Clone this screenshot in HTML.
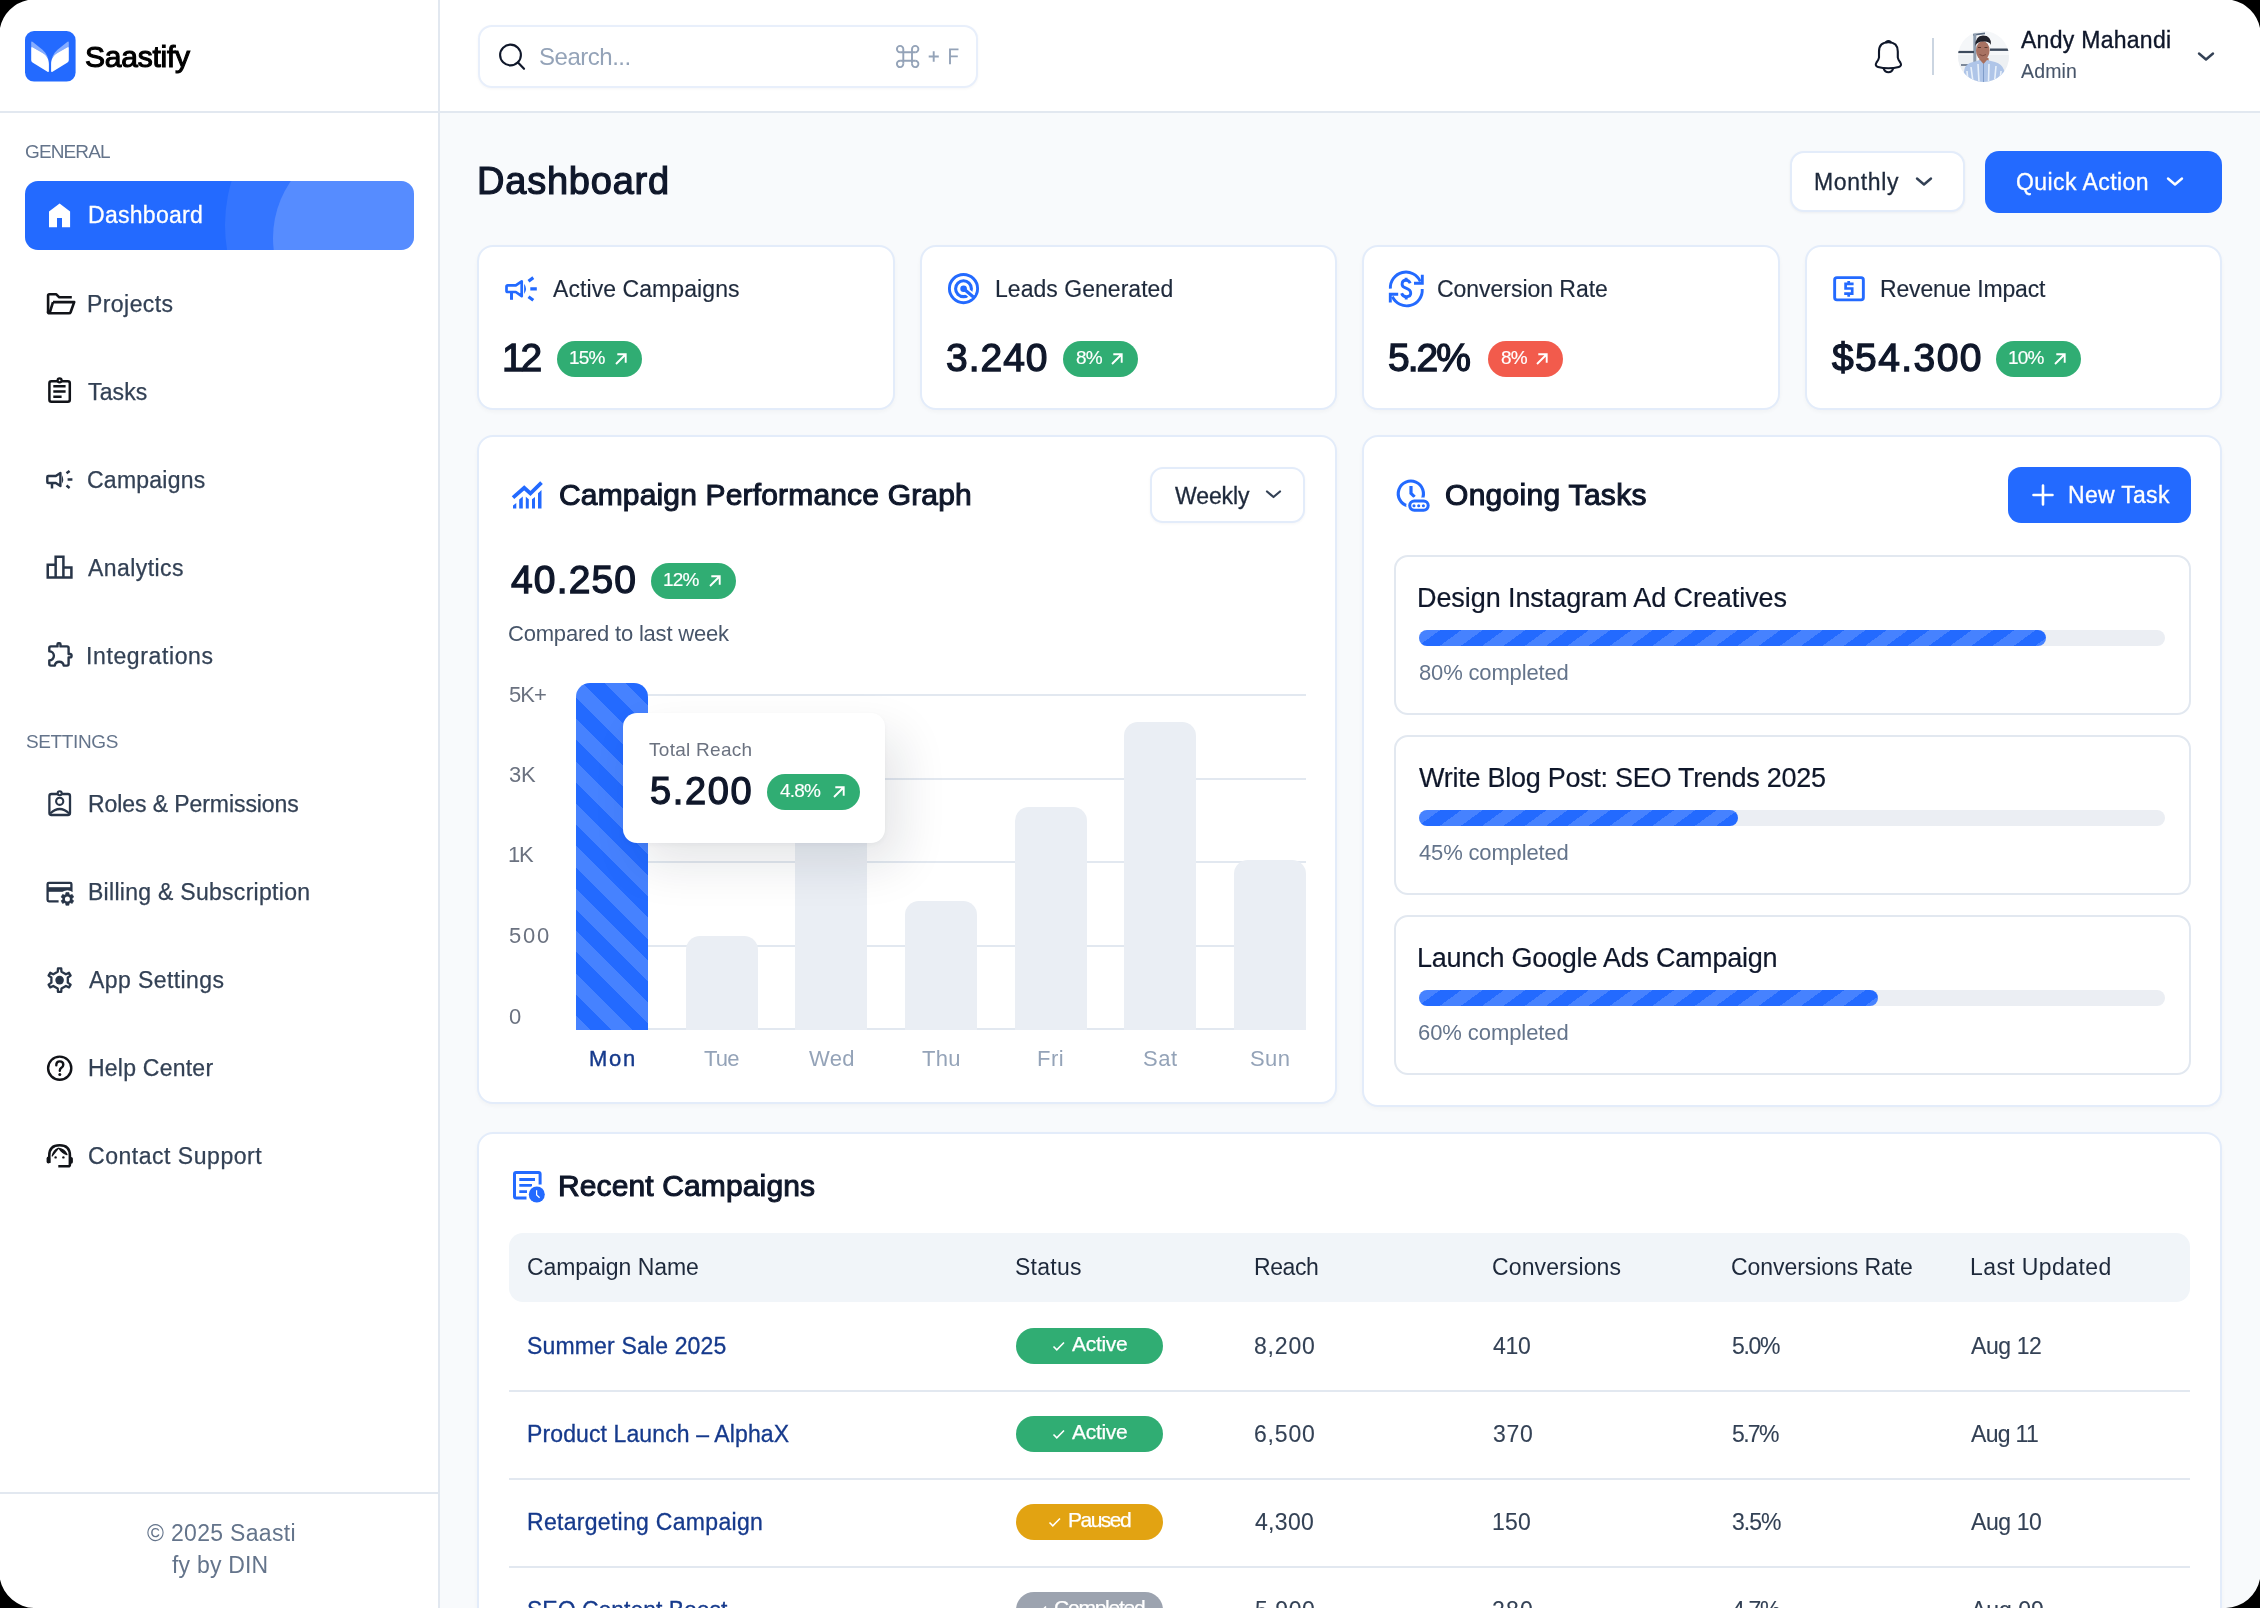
<!DOCTYPE html><html><head><meta charset="utf-8"><style>
html,body{margin:0;padding:0;background:#000;width:2260px;height:1608px;overflow:hidden}
.app{position:absolute;left:0;top:0;width:2260px;height:1608px;overflow:hidden;background:#F8FAFC;font-family:"Liberation Sans",sans-serif}
.t{position:absolute;white-space:nowrap;-webkit-font-smoothing:antialiased;will-change:transform}
svg{display:block}
</style></head><body><div class="app">
<div style="position:absolute;left:0px;top:0px;width:440px;height:1608px;box-sizing:border-box;background:#fff;border-right:2px solid #E2E8F0"></div>
<div style="position:absolute;left:0px;top:111px;width:440px;height:2px;box-sizing:border-box;background:#E2E8F0"></div>
<div style="position:absolute;left:440px;top:0px;width:1820px;height:113px;box-sizing:border-box;background:#fff;border-bottom:2px solid #E2E8F0"></div>
<svg style="position:absolute;left:25px;top:31px;overflow:visible" width="51" height="51" viewBox="0 0 51 51"><rect x="0" y="0" width="50.6" height="50.6" rx="9" fill="#236AFF"/>
<g id="w"><path d="M6.2,11.4 Q6.2,9.8 7.5,10.8 L17.5,18.8 C21.8,22.5 23.9,27.5 23.9,33 L23.9,32 C23.9,28 21.5,24.2 17.2,21.8 L7.6,16.3 Q6.2,15.5 6.2,17 Z" fill="#fff" fill-opacity="0.45"/>
<path d="M6.2,17 Q6.2,15.5 7.6,16.3 L17.2,21.8 C21.5,24.2 23.9,28 23.9,33 L23.9,40 Q23.9,41.4 22.5,40.8 L7.5,31.6 Q6.2,30.8 6.2,29.3 Z" fill="#fff"/></g>
<use href="#w" transform="translate(50,0) scale(-1,1)"/></svg>
<div class="t" style="left:84.50px;top:42.41px;font-size:30px;line-height:30px;color:#000;letter-spacing:-0.245px;-webkit-text-stroke:1.1px #000;">Saastify</div>
<div class="t" style="left:25.00px;top:142.42px;font-size:19px;line-height:19px;color:#64748B;letter-spacing:-0.873px;">GENERAL</div>
<div style="position:absolute;left:25px;top:181px;width:389px;height:69px;border-radius:13px;overflow:hidden;background:#236AFF">
<div style="position:absolute;left:200px;top:-106px;width:300px;height:300px;border-radius:50%;background:rgba(255,255,255,0.08)"></div>
<div style="position:absolute;left:248px;top:-43px;width:200px;height:200px;border-radius:50%;background:rgba(255,255,255,0.17)"></div>
</div>
<svg style="position:absolute;left:40px;top:195px;overflow:visible" width="40" height="40" viewBox="0 0 40 40"><path d="M9,16.4 L19.6,8.6 L30.1,16.4 L30.1,32.2 L22,32.2 L22,23 L17,23 L17,32.2 L9,32.2 Z" fill="#fff"/></svg>
<div class="t" style="left:87.70px;top:204.33px;font-size:23px;line-height:23px;color:#fff;letter-spacing:0.284px;-webkit-text-stroke:0.3px #fff;">Dashboard</div>
<div class="t" style="left:87.40px;top:292.53px;font-size:23px;line-height:23px;color:#334155;letter-spacing:0.431px;-webkit-text-stroke:0.25px #334155;">Projects</div>
<div class="t" style="left:88.40px;top:380.53px;font-size:23px;line-height:23px;color:#334155;letter-spacing:0.127px;-webkit-text-stroke:0.25px #334155;">Tasks</div>
<div class="t" style="left:87.40px;top:468.53px;font-size:23px;line-height:23px;color:#334155;letter-spacing:0.245px;-webkit-text-stroke:0.25px #334155;">Campaigns</div>
<div class="t" style="left:88.40px;top:556.53px;font-size:23px;line-height:23px;color:#334155;letter-spacing:0.421px;-webkit-text-stroke:0.25px #334155;">Analytics</div>
<div class="t" style="left:86.40px;top:644.53px;font-size:23px;line-height:23px;color:#334155;letter-spacing:0.619px;-webkit-text-stroke:0.25px #334155;">Integrations</div>
<div class="t" style="left:25.50px;top:732.12px;font-size:19px;line-height:19px;color:#64748B;letter-spacing:-0.377px;">SETTINGS</div>
<div class="t" style="left:87.60px;top:793.13px;font-size:23px;line-height:23px;color:#334155;letter-spacing:-0.077px;-webkit-text-stroke:0.25px #334155;">Roles &amp; Permissions</div>
<div class="t" style="left:87.60px;top:881.13px;font-size:23px;line-height:23px;color:#334155;letter-spacing:0.283px;-webkit-text-stroke:0.25px #334155;">Billing &amp; Subscription</div>
<div class="t" style="left:88.60px;top:969.13px;font-size:23px;line-height:23px;color:#334155;letter-spacing:0.407px;-webkit-text-stroke:0.25px #334155;">App Settings</div>
<div class="t" style="left:87.60px;top:1056.53px;font-size:23px;line-height:23px;color:#334155;letter-spacing:0.233px;-webkit-text-stroke:0.25px #334155;">Help Center</div>
<div class="t" style="left:87.60px;top:1144.53px;font-size:23px;line-height:23px;color:#334155;letter-spacing:0.527px;-webkit-text-stroke:0.25px #334155;">Contact Support</div>
<svg style="position:absolute;left:40px;top:285px;overflow:visible" width="40" height="40" viewBox="0 0 40 40"><path d="M8.1,28 L8.1,10.6 Q8.1,9.3 9.4,9.3 L16.3,9.3 L19.3,12.3 L31.8,12.3" stroke="#111318" stroke-width="2.6" fill="none" stroke-linejoin="round"/><path d="M13,17.1 L34.2,17.1 L30.6,27.2 Q30.2,28.3 29,28.3 L9.5,28.3 Q8.1,28.3 8.1,27 L8.1,26.5 M13,17.1 L9.6,28" stroke="#111318" stroke-width="2.6" fill="none" stroke-linejoin="round"/></svg>
<svg style="position:absolute;left:40px;top:370px;overflow:visible" width="40" height="40" viewBox="0 0 40 40"><rect x="9.4" y="11.2" width="20.4" height="20.6" rx="2" stroke="#111318" stroke-width="2.5" fill="none"/><circle cx="19.6" cy="10.3" r="2" stroke="#111318" stroke-width="2.2" fill="#fff"/><path d="M13.3,16.3 L25.6,16.3 M13.3,21.5 L25.6,21.5 M13.3,26.7 L21.6,26.7" stroke="#111318" stroke-width="2.6"/></svg>
<svg style="position:absolute;left:40px;top:459px;overflow:visible" width="40" height="40" viewBox="0 0 40 40"><path d="M8.2,17 L15.8,17 L20.4,14 L20.4,27 L15.8,24 L8.2,24 Q7.3,24 7.3,23 L7.3,18 Q7.3,17 8.2,17 Z" stroke="#283548" stroke-width="2.4" fill="none" stroke-linejoin="round"/><path d="M12,24 L12,29.5" stroke="#283548" stroke-width="2.5"/><path d="M22,16.2 Q24.4,20.5 22,24.6 Z" fill="#283548"/><path d="M26.5,14.3 L29.6,11.9 M27.6,20.4 L32.4,20.4 M26.5,26.5 L29.6,28.9" stroke="#283548" stroke-width="2.5"/></svg>
<svg style="position:absolute;left:40px;top:547px;overflow:visible" width="40" height="40" viewBox="0 0 40 40"><path d="M7.75,30.45 L7.75,17.65 L15.65,17.65 L15.65,30.45 M15.65,17.65 L15.65,9.75 L23.4,9.75 L23.4,30.45 M23.4,20.4 L31.4,20.4 L31.4,30.45 L7.75,30.45" stroke="#283548" stroke-width="2.5" fill="none" stroke-linecap="square" stroke-linejoin="miter"/></svg>
<svg style="position:absolute;left:40px;top:635px;overflow:visible" width="40" height="40" viewBox="0 0 40 40"><path d="M9.3,16.2 L9.3,13 Q9.3,11.4 10.9,11.4 L17.5,11.4 L17.5,9.3 Q17.5,8.3 18.5,8.3 L19.5,8.3 Q20.5,8.3 20.5,9.3 L20.5,11.4 L27,11.4 Q28.6,11.4 28.6,13 L28.6,19 L30,19 Q31.6,19 31.6,20.7 Q31.6,22.4 30,22.4 L28.6,22.4 L28.6,29 Q28.6,30.6 27,30.6 L23.7,30.6 A4.5,4.5 0 0 0 14.8,30.6 L10.9,30.6 Q9.3,30.6 9.3,29 L9.3,25.4 A4.6,4.6 0 0 0 9.3,16.2 Z" stroke="#283548" stroke-width="2.4" fill="none" stroke-linejoin="round"/></svg>
<svg style="position:absolute;left:40px;top:783px;overflow:visible" width="40" height="40" viewBox="0 0 40 40"><rect x="9.4" y="11" width="20.6" height="21" rx="2" stroke="#283548" stroke-width="2.3" fill="none"/><circle cx="19.7" cy="10.3" r="2" stroke="#283548" stroke-width="2.1" fill="#fff"/><circle cx="19.7" cy="18.3" r="3.6" stroke="#283548" stroke-width="2.1" fill="none"/><path d="M10.2,30.5 Q19.7,21.5 29.2,30.5" stroke="#283548" stroke-width="2.2" fill="none"/></svg>
<svg style="position:absolute;left:40px;top:873px;overflow:visible" width="40" height="40" viewBox="0 0 40 40"><path d="M18.6,28.3 L8.9,28.3 Q7.6,28.3 7.6,27 L7.6,11 Q7.6,9.8 8.9,9.8 L30.2,9.8 Q31.4,9.8 31.4,11 L31.4,19" stroke="#283548" stroke-width="2.3" fill="none"/><rect x="7.6" y="14.2" width="23.8" height="4.6" fill="#283548"/><circle cx="27.4" cy="25.9" r="8.6" fill="#fff"/><path d="M25.49,21.61 L25.92,19.47 L28.88,19.47 L29.31,21.61 L30.16,22.10 L32.23,21.40 L33.71,23.97 L32.07,25.41 L32.07,26.39 L33.71,27.83 L32.23,30.40 L30.16,29.70 L29.31,30.19 L28.88,32.33 L25.92,32.33 L25.49,30.19 L24.64,29.70 L22.57,30.40 L21.09,27.83 L22.73,26.39 L22.73,25.41 L21.09,23.97 L22.57,21.40 L24.64,22.10 Z" fill="#283548" stroke="#283548" stroke-width="0.6" stroke-linejoin="round"/><circle cx="27.4" cy="25.9" r="2.5" fill="#fff"/></svg>
<svg style="position:absolute;left:40px;top:960px;overflow:visible" width="40" height="40" viewBox="0 0 40 40"><path d="M17.72,11.71 L17.98,8.31 L21.22,8.31 L21.48,11.71 L25.93,14.28 L29.00,12.81 L30.62,15.60 L27.81,17.53 L27.81,22.67 L30.62,24.60 L29.00,27.39 L25.93,25.92 L21.48,28.49 L21.22,31.89 L17.98,31.89 L17.72,28.49 L13.27,25.92 L10.20,27.39 L8.58,24.60 L11.39,22.67 L11.39,17.53 L8.58,15.60 L10.20,12.81 L13.27,14.28 Z" stroke="#283548" stroke-width="2.3" fill="none" stroke-linejoin="round"/><circle cx="19.6" cy="20.1" r="4.3" fill="#283548"/></svg>
<svg style="position:absolute;left:40px;top:1048px;overflow:visible" width="40" height="40" viewBox="0 0 40 40"><circle cx="19.7" cy="20.2" r="11.6" stroke="#111318" stroke-width="2.4" fill="none"/><path d="M16.3,17.2 Q16.3,13.4 19.8,13.4 Q23.3,13.4 23.3,16.7 Q23.3,18.9 21,20.1 Q19.8,20.8 19.8,22.8" stroke="#111318" stroke-width="2.4" fill="none" stroke-linecap="round"/><circle cx="19.8" cy="26.5" r="1.5" fill="#111318"/></svg>
<svg style="position:absolute;left:40px;top:1136px;overflow:visible" width="40" height="40" viewBox="0 0 40 40"><path d="M9.3,27 L9.3,19.5 Q9.3,9.3 19.6,9.3 Q29.9,9.3 29.9,19.5 L29.9,28.5 Q29.9,30.3 28.2,30.3 L18.3,30.3" stroke="#111318" stroke-width="2.6" fill="none"/><path d="M12.2,20 Q13.5,14 18.3,12.3 Z M18.9,12.3 Q24.5,13 27,18.6 Q22,17.5 18.9,12.3 Z" fill="#111318" stroke="#111318" stroke-width="1.2" stroke-linejoin="round"/><rect x="6.6" y="20.6" width="3.6" height="7" rx="1.8" fill="#111318"/><rect x="29.3" y="21" width="3.6" height="6.8" rx="1.8" fill="#111318"/><circle cx="15.6" cy="21.4" r="1.2" fill="#111318"/><circle cx="23.4" cy="21.4" r="1.2" fill="#111318"/></svg>
<div style="position:absolute;left:0px;top:1492px;width:438px;height:2px;box-sizing:border-box;background:#E2E8F0"></div>
<div class="t" style="left:146.50px;top:1522.33px;font-size:23px;line-height:23px;color:#64748B;letter-spacing:0.316px;">© 2025 Saasti</div>
<div class="t" style="left:172.00px;top:1554.23px;font-size:23px;line-height:23px;color:#64748B;letter-spacing:0.205px;">fy by DIN</div>
<div style="position:absolute;left:478px;top:25px;width:500px;height:63px;box-sizing:border-box;background:#fff;border:2px solid #E8EFFB;border-radius:14px;box-shadow:0 1px 3px rgba(15,23,42,0.04)"></div>
<svg style="position:absolute;left:490px;top:36px;overflow:visible" width="50" height="44" viewBox="0 0 50 44"><circle cx="20.5" cy="19" r="10.4" stroke="#0F172A" stroke-width="2.1" fill="none"/><path d="M28,26.6 L34,32.8" stroke="#0F172A" stroke-width="2.2" stroke-linecap="round"/></svg>
<div class="t" style="left:539.00px;top:44.68px;font-size:24px;line-height:24px;color:#94A3B8;letter-spacing:-0.485px;">Search...</div>
<svg style="position:absolute;left:885px;top:36px;overflow:visible" width="80" height="40" viewBox="0 0 80 40"><g stroke="#94A3B8" stroke-width="1.9" fill="none"><path d="M18.3,13.1 L18.3,27.8 M27,13.1 L27,27.8 M15.1,16.3 L30.2,16.3 M15.1,24.7 L30.2,24.7"/><path d="M18.3,13.1 A3.2,3.2 0 1 0 15.1,16.3 M27,13.1 A3.2,3.2 0 1 1 30.2,16.3 M18.3,27.8 A3.2,3.2 0 1 1 15.1,24.7 M27,27.8 A3.2,3.2 0 1 0 30.2,24.7"/><path d="M43.7,20.5 L53.8,20.5 M48.7,15.3 L48.7,25.7"/><path d="M65,28.3 L65,13.4 L73.5,13.4 M65,20.4 L72.8,20.4"/></g></svg>
<svg style="position:absolute;left:1866px;top:34px;overflow:visible" width="44" height="44" viewBox="0 0 44 44"><path d="M13,23.5 L13,17.5 Q13,8.3 22.4,8.3 Q31.8,8.3 31.8,17.5 L31.8,23.5 Q32,25.5 34.3,28.5 Q36.3,31.8 32.8,32.9 Q28,34.3 22.4,34.3 Q16.8,34.3 12,32.9 Q8.5,31.8 10.5,28.5 Q12.8,25.5 13,23.5 Z" stroke="#0F172A" stroke-width="2.1" fill="none" stroke-linejoin="round"/><path d="M17.6,34.3 Q19,38.2 22.4,38.2 Q25.8,38.2 27.2,34.3 M20,8.1 Q22.4,6.3 24.8,8.1" stroke="#0F172A" stroke-width="2.1" fill="none" stroke-linecap="round"/></svg>
<div style="position:absolute;left:1932px;top:38px;width:2px;height:37px;box-sizing:border-box;background:#CBD5E1"></div>
<svg style="position:absolute;left:1957.6px;top:30.5px;overflow:visible" width="51" height="51" viewBox="0 0 51 51"><defs><clipPath id="avc"><circle cx="25.5" cy="25.5" r="25.5"/></clipPath></defs><g clip-path="url(#avc)">
<rect width="51" height="51" fill="#F5F7F9"/>
<rect x="0" y="24" width="51" height="27" fill="#EDF0F3"/>
<path d="M15,3 L27,1.5 L27,3.3 L15,4.8 Z" fill="#5A6B80"/>
<rect x="15.3" y="2.5" width="3" height="29" fill="#8E9DAF"/>
<rect x="0" y="19.9" width="16" height="2.2" fill="#3D4A5C"/>
<rect x="32" y="17.5" width="20" height="2.4" fill="#3D4A5C"/>
<rect x="3" y="33" width="8" height="2" fill="#7C8899"/>
<path d="M21.5,27 L30.5,27 L31,35 L21,35 Z" fill="#A86F5C"/>
<ellipse cx="24.8" cy="19.5" rx="6.8" ry="9.6" fill="#A87262"/><path d="M20,16.5 L23,16.5 M26.5,16.5 L29.5,16.5" stroke="#5A3A30" stroke-width="1"/><path d="M21.5,23.5 Q24.8,26 28,23.5" stroke="#7A4A3E" stroke-width="1" fill="none"/>
<path d="M17.3,15 Q17,5 25,4.5 Q33.5,4.5 33,14 Q31.5,10 25,10.5 Q19,10.5 17.3,15 Z" fill="#22222B"/>
<path d="M4,51 L6.5,38 Q8,32.5 15,31 L22,29 L25.5,33 L29,29 L37,31 Q44,33 46,39 L48,51 Z" fill="#AFC5E8"/>
<path d="M13,36 L15,51 M20,33 L21,51 M31,33 L30.5,51 M38,35 L36.5,51 M9,40 L10,51 M43,40 L42,51" stroke="#E8F0FA" stroke-width="1.6"/>
<path d="M25.5,33 L25.5,51" stroke="#7F9CC9" stroke-width="1"/>
</g></svg>
<div class="t" style="left:2021.00px;top:28.83px;font-size:23px;line-height:23px;color:#0F172A;letter-spacing:0.279px;-webkit-text-stroke:0.35px #0F172A;">Andy Mahandi</div>
<div class="t" style="left:2021.00px;top:62.49px;font-size:19.5px;line-height:19.5px;color:#475569;letter-spacing:0.143px;-webkit-text-stroke:0.1px #475569;">Admin</div>
<svg style="position:absolute;left:2194px;top:48px;overflow:visible" width="26" height="20" viewBox="0 0 26 20"><path d="M5,5.5 L12,11.5 L19,5.5" stroke="#334155" stroke-width="2.4" fill="none" stroke-linecap="round" stroke-linejoin="round"/></svg>
<div class="t" style="left:476.90px;top:161.73px;font-size:38px;line-height:38px;color:#0F172A;letter-spacing:0.779px;-webkit-text-stroke:1.2px #0F172A;">Dashboard</div>
<div style="position:absolute;left:1790px;top:151px;width:175px;height:61px;box-sizing:border-box;background:#fff;border:2px solid #E3ECFA;border-radius:14px;box-shadow:0 1px 3px rgba(15,23,42,0.05)"></div>
<div class="t" style="left:1814.00px;top:170.73px;font-size:23px;line-height:23px;color:#1E293B;letter-spacing:0.661px;-webkit-text-stroke:0.3px #1E293B;">Monthly</div>
<svg style="position:absolute;left:1912px;top:172px;overflow:visible" width="26" height="20" viewBox="0 0 26 20"><path d="M5,6.5 L12,12.5 L19,6.5" stroke="#334155" stroke-width="2.4" fill="none" stroke-linecap="round" stroke-linejoin="round"/></svg>
<div style="position:absolute;left:1985px;top:151px;width:237px;height:62px;box-sizing:border-box;background:#236AFF;border-radius:14px"></div>
<div class="t" style="left:2015.60px;top:170.73px;font-size:23px;line-height:23px;color:#fff;letter-spacing:0.426px;-webkit-text-stroke:0.3px #fff;">Quick Action</div>
<svg style="position:absolute;left:2163px;top:172px;overflow:visible" width="26" height="20" viewBox="0 0 26 20"><path d="M5,6.5 L12,12.5 L19,6.5" stroke="#fff" stroke-width="2.4" fill="none" stroke-linecap="round" stroke-linejoin="round"/></svg>
<div style="position:absolute;left:477px;top:245px;width:418px;height:165px;box-sizing:border-box;background:#fff;border:2px solid #E3ECFA;border-radius:16px;box-shadow:0 2px 4px rgba(15,23,42,0.03)"></div>
<div class="t" style="left:553.00px;top:277.83px;font-size:23px;line-height:23px;color:#1E293B;letter-spacing:0.076px;-webkit-text-stroke:0.15px #1E293B;">Active Campaigns</div>
<div class="t" style="left:502.10px;top:338.19px;font-size:39px;line-height:39px;color:#0F172A;letter-spacing:-3.200px;-webkit-text-stroke:1.3px #0F172A;">12</div>
<div style="position:absolute;left:557px;top:341px;width:85px;height:36px;box-sizing:border-box;background:#30AD73;border-radius:18px"></div>
<div class="t" style="left:569.00px;top:348.32px;font-size:19px;line-height:19px;color:#fff;letter-spacing:-0.800px;-webkit-text-stroke:0.15px #fff;">15%</div>
<svg style="position:absolute;left:614.5px;top:353.3px;overflow:visible" width="12" height="12" viewBox="0 0 12 12"><path d="M1,11 L10.5,1.5 M2.3,1.3 L10.7,1.3 L10.7,9.7" stroke="#fff" stroke-width="1.9" fill="none" stroke-linecap="butt" stroke-linejoin="miter"/></svg>
<div style="position:absolute;left:920px;top:245px;width:417px;height:165px;box-sizing:border-box;background:#fff;border:2px solid #E3ECFA;border-radius:16px;box-shadow:0 2px 4px rgba(15,23,42,0.03)"></div>
<div class="t" style="left:995.00px;top:277.83px;font-size:23px;line-height:23px;color:#1E293B;letter-spacing:0.032px;-webkit-text-stroke:0.15px #1E293B;">Leads Generated</div>
<div class="t" style="left:946.10px;top:338.19px;font-size:39px;line-height:39px;color:#0F172A;letter-spacing:0.974px;-webkit-text-stroke:1.3px #0F172A;">3.240</div>
<div style="position:absolute;left:1063px;top:341px;width:75px;height:36px;box-sizing:border-box;background:#30AD73;border-radius:18px"></div>
<div class="t" style="left:1076.00px;top:348.32px;font-size:19px;line-height:19px;color:#fff;letter-spacing:-0.800px;-webkit-text-stroke:0.15px #fff;">8%</div>
<svg style="position:absolute;left:1110.5px;top:353.3px;overflow:visible" width="12" height="12" viewBox="0 0 12 12"><path d="M1,11 L10.5,1.5 M2.3,1.3 L10.7,1.3 L10.7,9.7" stroke="#fff" stroke-width="1.9" fill="none" stroke-linecap="butt" stroke-linejoin="miter"/></svg>
<div style="position:absolute;left:1362px;top:245px;width:418px;height:165px;box-sizing:border-box;background:#fff;border:2px solid #E3ECFA;border-radius:16px;box-shadow:0 2px 4px rgba(15,23,42,0.03)"></div>
<div class="t" style="left:1437.00px;top:277.83px;font-size:23px;line-height:23px;color:#1E293B;letter-spacing:-0.037px;-webkit-text-stroke:0.15px #1E293B;">Conversion Rate</div>
<div class="t" style="left:1388.10px;top:338.19px;font-size:39px;line-height:39px;color:#0F172A;letter-spacing:-1.972px;-webkit-text-stroke:1.3px #0F172A;">5.2%</div>
<div style="position:absolute;left:1488px;top:341px;width:75px;height:36px;box-sizing:border-box;background:#F25B4C;border-radius:18px"></div>
<div class="t" style="left:1501.00px;top:348.32px;font-size:19px;line-height:19px;color:#fff;letter-spacing:-0.800px;-webkit-text-stroke:0.15px #fff;">8%</div>
<svg style="position:absolute;left:1535.5px;top:353.3px;overflow:visible" width="12" height="12" viewBox="0 0 12 12"><path d="M1,11 L10.5,1.5 M2.3,1.3 L10.7,1.3 L10.7,9.7" stroke="#fff" stroke-width="1.9" fill="none" stroke-linecap="butt" stroke-linejoin="miter"/></svg>
<div style="position:absolute;left:1805px;top:245px;width:417px;height:165px;box-sizing:border-box;background:#fff;border:2px solid #E3ECFA;border-radius:16px;box-shadow:0 2px 4px rgba(15,23,42,0.03)"></div>
<div class="t" style="left:1880.00px;top:277.83px;font-size:23px;line-height:23px;color:#1E293B;letter-spacing:-0.161px;-webkit-text-stroke:0.15px #1E293B;">Revenue Impact</div>
<div class="t" style="left:1832.10px;top:338.19px;font-size:39px;line-height:39px;color:#0F172A;letter-spacing:1.419px;-webkit-text-stroke:1.3px #0F172A;">$54.300</div>
<div style="position:absolute;left:1996px;top:341px;width:85px;height:36px;box-sizing:border-box;background:#30AD73;border-radius:18px"></div>
<div class="t" style="left:2008.00px;top:348.32px;font-size:19px;line-height:19px;color:#fff;letter-spacing:-0.800px;-webkit-text-stroke:0.15px #fff;">10%</div>
<svg style="position:absolute;left:2053.5px;top:353.3px;overflow:visible" width="12" height="12" viewBox="0 0 12 12"><path d="M1,11 L10.5,1.5 M2.3,1.3 L10.7,1.3 L10.7,9.7" stroke="#fff" stroke-width="1.9" fill="none" stroke-linecap="butt" stroke-linejoin="miter"/></svg>
<svg style="position:absolute;left:498px;top:268px;overflow:visible" width="50" height="40" viewBox="0 0 50 40"><path d="M9.8,17.3 L17.8,17.3 L23.7,13.3 L23.7,28.2 L17.8,24 L9.8,24 Q8.5,24 8.5,22.7 L8.5,18.6 Q8.5,17.3 9.8,17.3 Z" stroke="#236AFF" stroke-width="2.7" fill="none" stroke-linejoin="round"/><path d="M13.5,24 L13.5,31.8" stroke="#236AFF" stroke-width="3"/><path d="M26.1,15.8 Q30,21 26.1,26.1 Z" fill="#236AFF"/><path d="M30.5,13.2 L35.3,9.6 M32.3,20.9 L38.8,20.9 M30.5,28.7 L35.3,32.2" stroke="#236AFF" stroke-width="3.2"/></svg>
<svg style="position:absolute;left:940px;top:268px;overflow:visible" width="50" height="40" viewBox="0 0 50 40"><circle cx="23.5" cy="20.6" r="14.1" stroke="#236AFF" stroke-width="2.9" fill="none"/><circle cx="23.5" cy="20.7" r="7.9" stroke="#236AFF" stroke-width="3.1" fill="none"/><path d="M23.6,20.7 L33,28.6" stroke="#fff" stroke-width="6.5"/><path d="M23.6,20.7 L33.4,29" stroke="#236AFF" stroke-width="3.2"/><circle cx="23.6" cy="20.7" r="3.3" fill="#236AFF"/></svg>
<svg style="position:absolute;left:1382px;top:268px;overflow:visible" width="50" height="40" viewBox="0 0 50 40"><g stroke="#236AFF" stroke-width="2.9" fill="none"><path d="M8.4,20.6 A15.6,15.6 0 0 1 38.3,13.5"/><path d="M40.2,21 A15.6,15.6 0 0 1 10.4,28.6"/><path d="M40.3,6.8 L40.3,15.2 L32,15.2"/><path d="M8.3,34.6 L8.3,26.2 L16.2,26.2"/><path d="M28.2,15.2 Q27,12.3 24.1,12.3 Q20.1,12.3 20.1,16.2 Q20.1,18.8 24,20.2 Q28.7,21.8 28.7,25.3 Q28.7,28.7 24.3,28.7 Q20.7,28.7 19.6,25.3"/><path d="M24.1,9.8 L24.1,12.3 M24.2,28.7 L24.2,31.6"/></g></svg>
<svg style="position:absolute;left:1825px;top:268px;overflow:visible" width="50" height="40" viewBox="0 0 50 40"><rect x="9.65" y="9.65" width="28.7" height="22.2" rx="2.3" stroke="#236AFF" stroke-width="2.9" fill="none"/><path d="M28.6,15.8 L20.6,15.8 L20.6,20.5 L27.2,20.5 L27.2,25.6 L19.2,25.6 M23.7,13 L23.7,15.8 M23.7,25.6 L23.7,28.7" stroke="#236AFF" stroke-width="2.7" fill="none"/></svg>
<div style="position:absolute;left:477px;top:435px;width:860px;height:669px;box-sizing:border-box;background:#fff;border:2px solid #E3ECFA;border-radius:16px;box-shadow:0 2px 4px rgba(15,23,42,0.03)"></div>
<svg style="position:absolute;left:500px;top:472px;overflow:visible" width="50" height="45" viewBox="0 0 50 45"><path d="M13,36.6 L13,33.5 L16.3,31 L16.3,36.6 Z M19.2,36.6 L19.2,27.5 L22.8,24.5 L22.8,36.6 Z M25.8,36.6 L25.8,24.7 L28.8,27.3 L28.8,36.6 Z M32,36.6 L32,27.3 L35,24.9 L35,36.6 Z M38,36.6 L38,21.3 L41.5,18 L41.5,36.6 Z" fill="#236AFF"/><path d="M13,25.6 L24.2,15.8 L30.4,21.5 L41.5,10.6" stroke="#236AFF" stroke-width="3.8" fill="none" stroke-linejoin="miter"/></svg>
<div class="t" style="left:559.00px;top:479.81px;font-size:30px;line-height:30px;color:#0F172A;letter-spacing:0.166px;-webkit-text-stroke:1.05px #0F172A;">Campaign Performance Graph</div>
<div style="position:absolute;left:1150px;top:467px;width:155px;height:56px;box-sizing:border-box;background:#fff;border:2px solid #E3ECFA;border-radius:13px;box-shadow:0 1px 3px rgba(15,23,42,0.04)"></div>
<div class="t" style="left:1174.80px;top:484.53px;font-size:23px;line-height:23px;color:#1E293B;letter-spacing:-0.097px;-webkit-text-stroke:0.3px #1E293B;">Weekly</div>
<svg style="position:absolute;left:1262px;top:485px;overflow:visible" width="24" height="20" viewBox="0 0 24 20"><path d="M5,6.5 L11.5,12 L18,6.5" stroke="#334155" stroke-width="2.2" fill="none" stroke-linecap="round" stroke-linejoin="round"/></svg>
<div class="t" style="left:510.60px;top:559.79px;font-size:39px;line-height:39px;color:#0F172A;letter-spacing:1.141px;-webkit-text-stroke:1.3px #0F172A;">40.250</div>
<div style="position:absolute;left:651px;top:563px;width:85px;height:36px;box-sizing:border-box;background:#30AD73;border-radius:18px"></div>
<div class="t" style="left:663.00px;top:570.32px;font-size:19px;line-height:19px;color:#fff;letter-spacing:-0.800px;-webkit-text-stroke:0.15px #fff;">12%</div>
<svg style="position:absolute;left:708.5px;top:575.3px;overflow:visible" width="12" height="12" viewBox="0 0 12 12"><path d="M1,11 L10.5,1.5 M2.3,1.3 L10.7,1.3 L10.7,9.7" stroke="#fff" stroke-width="1.9" fill="none" stroke-linecap="butt" stroke-linejoin="miter"/></svg>
<div class="t" style="left:508.00px;top:622.78px;font-size:22px;line-height:22px;color:#475569;letter-spacing:-0.200px;">Compared to last week</div>
<div class="t" style="left:509.00px;top:683.98px;font-size:22px;line-height:22px;color:#6B7280;letter-spacing:-0.955px;">5K+</div>
<div class="t" style="left:509.00px;top:764.28px;font-size:22px;line-height:22px;color:#6B7280;letter-spacing:-0.235px;">3K</div>
<div class="t" style="left:508.00px;top:844.38px;font-size:22px;line-height:22px;color:#6B7280;letter-spacing:-1.235px;">1K</div>
<div class="t" style="left:509.00px;top:925.38px;font-size:22px;line-height:22px;color:#6B7280;letter-spacing:1.765px;">500</div>
<div class="t" style="left:509.00px;top:1005.78px;font-size:22px;line-height:22px;color:#6B7280;letter-spacing:0.000px;">0</div>
<div style="position:absolute;left:576px;top:694px;width:730px;height:2px;box-sizing:border-box;background:#E2E8F0"></div>
<div style="position:absolute;left:576px;top:777.5px;width:730px;height:2.0px;box-sizing:border-box;background:#E2E8F0"></div>
<div style="position:absolute;left:576px;top:861px;width:730px;height:2px;box-sizing:border-box;background:#E2E8F0"></div>
<div style="position:absolute;left:576px;top:944.5px;width:730px;height:2.0px;box-sizing:border-box;background:#E2E8F0"></div>
<div style="position:absolute;left:576px;top:1028px;width:730px;height:2px;box-sizing:border-box;background:#E2E8F0"></div>
<div style="position:absolute;left:576px;top:683px;width:72px;height:347px;box-sizing:border-box;background:repeating-linear-gradient(45deg,#4682FF 0px,#4682FF 10.2px,#236AFF 10.2px,#236AFF 25.2px,#4682FF 25.2px,#4682FF 30px);border-radius:14px 14px 0 0"></div>
<div style="position:absolute;left:686px;top:936px;width:72px;height:94px;box-sizing:border-box;background:#EAEEF4;border-radius:14px 14px 0 0"></div>
<div style="position:absolute;left:795px;top:830px;width:72px;height:200px;box-sizing:border-box;background:#EAEEF4;border-radius:14px 14px 0 0"></div>
<div style="position:absolute;left:905px;top:901px;width:72px;height:129px;box-sizing:border-box;background:#EAEEF4;border-radius:14px 14px 0 0"></div>
<div style="position:absolute;left:1015px;top:807px;width:72px;height:223px;box-sizing:border-box;background:#EAEEF4;border-radius:14px 14px 0 0"></div>
<div style="position:absolute;left:1124px;top:722px;width:72px;height:308px;box-sizing:border-box;background:#EAEEF4;border-radius:14px 14px 0 0"></div>
<div style="position:absolute;left:1234px;top:860px;width:72px;height:170px;box-sizing:border-box;background:#EAEEF4;border-radius:14px 14px 0 0"></div>
<div class="t" style="left:588.50px;top:1048.38px;font-size:22px;line-height:22px;color:#163A8C;letter-spacing:1.769px;-webkit-text-stroke:0.4px #163A8C;">Mon</div>
<div class="t" style="left:704.00px;top:1048.38px;font-size:22px;line-height:22px;color:#94A3B8;letter-spacing:-0.779px;">Tue</div>
<div class="t" style="left:808.80px;top:1048.38px;font-size:22px;line-height:22px;color:#94A3B8;letter-spacing:0.299px;">Wed</div>
<div class="t" style="left:922.40px;top:1048.38px;font-size:22px;line-height:22px;color:#94A3B8;letter-spacing:0.313px;">Thu</div>
<div class="t" style="left:1037.00px;top:1048.38px;font-size:22px;line-height:22px;color:#94A3B8;letter-spacing:0.518px;">Fri</div>
<div class="t" style="left:1142.50px;top:1048.38px;font-size:22px;line-height:22px;color:#94A3B8;letter-spacing:0.495px;">Sat</div>
<div class="t" style="left:1249.80px;top:1048.38px;font-size:22px;line-height:22px;color:#94A3B8;letter-spacing:0.445px;">Sun</div>
<div style="position:absolute;left:623px;top:713px;width:262px;height:130px;box-sizing:border-box;background:#fff;border-radius:14px;box-shadow:16px 22px 48px rgba(15,23,42,0.11),0 2px 5px rgba(15,23,42,0.04)"></div>
<div class="t" style="left:649.00px;top:739.92px;font-size:19px;line-height:19px;color:#6B7280;letter-spacing:0.283px;">Total Reach</div>
<div class="t" style="left:649.60px;top:771.53px;font-size:38px;line-height:38px;color:#0F172A;letter-spacing:1.660px;-webkit-text-stroke:1.25px #0F172A;">5.200</div>
<div style="position:absolute;left:767px;top:774px;width:93px;height:36px;box-sizing:border-box;background:#30AD73;border-radius:18px"></div>
<div class="t" style="left:780.00px;top:781.32px;font-size:19px;line-height:19px;color:#fff;letter-spacing:-0.800px;-webkit-text-stroke:0.15px #fff;">4.8%</div>
<svg style="position:absolute;left:832.5px;top:786.3px;overflow:visible" width="12" height="12" viewBox="0 0 12 12"><path d="M1,11 L10.5,1.5 M2.3,1.3 L10.7,1.3 L10.7,9.7" stroke="#fff" stroke-width="1.9" fill="none" stroke-linecap="butt" stroke-linejoin="miter"/></svg>
<div style="position:absolute;left:1362px;top:435px;width:860px;height:672px;box-sizing:border-box;background:#fff;border:2px solid #E3ECFA;border-radius:16px;box-shadow:0 2px 4px rgba(15,23,42,0.03)"></div>
<svg style="position:absolute;left:1390px;top:472px;overflow:visible" width="50" height="45" viewBox="0 0 50 45"><path d="M17.5,33.8 A12.6,12.6 0 1 1 32,27.5" stroke="#236AFF" stroke-width="3.1" fill="none"/><path d="M21,14 L21,21.4 L24.6,24.8" stroke="#236AFF" stroke-width="3.2" fill="none"/><rect x="19.7" y="29" width="18.5" height="9.2" rx="4.6" stroke="#fff" stroke-width="7" fill="none"/><rect x="19.7" y="29" width="18.5" height="9.2" rx="4.6" stroke="#236AFF" stroke-width="3" fill="#fff"/><circle cx="24" cy="33.7" r="1.55" fill="#236AFF"/><circle cx="28.7" cy="33.7" r="1.55" fill="#236AFF"/><circle cx="33.4" cy="33.7" r="1.55" fill="#236AFF"/></svg>
<div class="t" style="left:1444.50px;top:479.61px;font-size:30px;line-height:30px;color:#0F172A;letter-spacing:0.296px;-webkit-text-stroke:1.05px #0F172A;">Ongoing Tasks</div>
<div style="position:absolute;left:2008px;top:467px;width:183px;height:56px;box-sizing:border-box;background:#236AFF;border-radius:13px"></div>
<svg style="position:absolute;left:2030px;top:482px;overflow:visible" width="26" height="26" viewBox="0 0 26 26"><path d="M13,3.5 L13,22.5 M3.5,13 L22.5,13" stroke="#fff" stroke-width="2.6" stroke-linecap="round"/></svg>
<div class="t" style="left:2067.70px;top:483.73px;font-size:23px;line-height:23px;color:#fff;letter-spacing:0.301px;-webkit-text-stroke:0.3px #fff;">New Task</div>
<div style="position:absolute;left:1394px;top:555px;width:797px;height:160px;box-sizing:border-box;background:#fff;border:2px solid #E2E8F0;border-radius:14px"></div>
<div class="t" style="left:1417.20px;top:585.44px;font-size:27px;line-height:27px;color:#0F172A;letter-spacing:-0.077px;-webkit-text-stroke:0.2px #0F172A;">Design Instagram Ad Creatives</div>
<div style="position:absolute;left:1419px;top:630px;width:746px;height:16px;box-sizing:border-box;background:#EBEEF3;border-radius:8px"></div>
<div style="position:absolute;left:1419px;top:630px;width:627px;height:16px;box-sizing:border-box;background:repeating-linear-gradient(144deg,#4682FF 0px,#4682FF 12.5px,#236AFF 12.5px,#236AFF 25px);border-radius:8px"></div>
<div class="t" style="left:1419.00px;top:662.38px;font-size:22px;line-height:22px;color:#64748B;letter-spacing:-0.159px;">80% completed</div>
<div style="position:absolute;left:1394px;top:735px;width:797px;height:160px;box-sizing:border-box;background:#fff;border:2px solid #E2E8F0;border-radius:14px"></div>
<div class="t" style="left:1419.20px;top:765.44px;font-size:27px;line-height:27px;color:#0F172A;letter-spacing:-0.264px;-webkit-text-stroke:0.2px #0F172A;">Write Blog Post: SEO Trends 2025</div>
<div style="position:absolute;left:1419px;top:810px;width:746px;height:16px;box-sizing:border-box;background:#EBEEF3;border-radius:8px"></div>
<div style="position:absolute;left:1419px;top:810px;width:319px;height:16px;box-sizing:border-box;background:repeating-linear-gradient(144deg,#4682FF 0px,#4682FF 12.5px,#236AFF 12.5px,#236AFF 25px);border-radius:8px"></div>
<div class="t" style="left:1419.00px;top:842.38px;font-size:22px;line-height:22px;color:#64748B;letter-spacing:-0.159px;">45% completed</div>
<div style="position:absolute;left:1394px;top:915px;width:797px;height:160px;box-sizing:border-box;background:#fff;border:2px solid #E2E8F0;border-radius:14px"></div>
<div class="t" style="left:1417.20px;top:945.44px;font-size:27px;line-height:27px;color:#0F172A;letter-spacing:-0.229px;-webkit-text-stroke:0.2px #0F172A;">Launch Google Ads Campaign</div>
<div style="position:absolute;left:1419px;top:990px;width:746px;height:16px;box-sizing:border-box;background:#EBEEF3;border-radius:8px"></div>
<div style="position:absolute;left:1419px;top:990px;width:459px;height:16px;box-sizing:border-box;background:repeating-linear-gradient(144deg,#4682FF 0px,#4682FF 12.5px,#236AFF 12.5px,#236AFF 25px);border-radius:8px"></div>
<div class="t" style="left:1418.00px;top:1022.38px;font-size:22px;line-height:22px;color:#64748B;letter-spacing:-0.076px;">60% completed</div>
<div style="position:absolute;left:477px;top:1132px;width:1745px;height:568px;box-sizing:border-box;background:#fff;border:2px solid #E3ECFA;border-radius:16px;box-shadow:0 2px 4px rgba(15,23,42,0.03)"></div>
<svg style="position:absolute;left:505px;top:1163px;overflow:visible" width="50" height="45" viewBox="0 0 50 45"><path d="M21.5,35.1 L11,35.1 Q9.5,35.1 9.5,33.6 L9.5,11 Q9.5,9.5 11,9.5 L33.6,9.5 Q35.1,9.5 35.1,11 L35.1,21.6" stroke="#236AFF" stroke-width="3" fill="none"/><path d="M14.3,16.5 L30,16.5 M14.3,22.4 L27,22.4 M14.3,28.7 L22,28.7" stroke="#236AFF" stroke-width="2.8"/><circle cx="31.8" cy="31.5" r="9.8" fill="#fff"/><circle cx="31.8" cy="31.5" r="8" fill="#236AFF"/><path d="M31.6,27.3 L31.6,32 L34.6,34.8" stroke="#fff" stroke-width="1.2" fill="none"/></svg>
<div class="t" style="left:558.10px;top:1171.11px;font-size:30px;line-height:30px;color:#0F172A;letter-spacing:0.125px;-webkit-text-stroke:1.05px #0F172A;">Recent Campaigns</div>
<div style="position:absolute;left:509px;top:1233px;width:1681px;height:69px;box-sizing:border-box;background:#F1F5F9;border-radius:14px"></div>
<div class="t" style="left:527.00px;top:1256.33px;font-size:23px;line-height:23px;color:#1E293B;letter-spacing:-0.066px;">Campaign Name</div>
<div class="t" style="left:1015.00px;top:1256.33px;font-size:23px;line-height:23px;color:#1E293B;letter-spacing:0.259px;">Status</div>
<div class="t" style="left:1254.00px;top:1256.33px;font-size:23px;line-height:23px;color:#1E293B;letter-spacing:-0.423px;">Reach</div>
<div class="t" style="left:1492.00px;top:1256.33px;font-size:23px;line-height:23px;color:#1E293B;letter-spacing:0.116px;">Conversions</div>
<div class="t" style="left:1731.00px;top:1256.33px;font-size:23px;line-height:23px;color:#1E293B;letter-spacing:-0.068px;">Conversions Rate</div>
<div class="t" style="left:1970.00px;top:1256.33px;font-size:23px;line-height:23px;color:#1E293B;letter-spacing:0.397px;">Last Updated</div>
<div class="t" style="left:527.00px;top:1335.13px;font-size:23px;line-height:23px;color:#163A8C;letter-spacing:0.161px;-webkit-text-stroke:0.3px #163A8C;">Summer Sale 2025</div>
<div style="position:absolute;left:1016px;top:1327.6px;width:147px;height:36.0px;box-sizing:border-box;background:#30AD73;border-radius:18px"></div>
<svg style="position:absolute;left:1051.75px;top:1339.6px;overflow:visible" width="14" height="12" viewBox="0 0 14 12"><path d="M1.5,6.5 L4.8,9.8 L12,2.5" stroke="#fff" stroke-width="1.6" fill="none" stroke-linecap="butt" stroke-linejoin="miter"/></svg>
<div class="t" style="left:1072.25px;top:1333.22px;font-size:21px;line-height:21px;color:#fff;letter-spacing:-0.301px;-webkit-text-stroke:0.25px #fff;">Active</div>
<div class="t" style="left:1253.80px;top:1335.13px;font-size:23px;line-height:23px;color:#334155;letter-spacing:0.809px;-webkit-text-stroke:0.1px #334155;">8,200</div>
<div class="t" style="left:1493.40px;top:1335.13px;font-size:23px;line-height:23px;color:#334155;letter-spacing:-0.292px;-webkit-text-stroke:0.1px #334155;">410</div>
<div class="t" style="left:1732.40px;top:1335.13px;font-size:23px;line-height:23px;color:#334155;letter-spacing:-1.324px;-webkit-text-stroke:0.1px #334155;">5.0%</div>
<div class="t" style="left:1971.30px;top:1335.13px;font-size:23px;line-height:23px;color:#334155;letter-spacing:-0.421px;-webkit-text-stroke:0.1px #334155;">Aug 12</div>
<div style="position:absolute;left:509px;top:1390.1px;width:1681px;height:2.0px;box-sizing:border-box;background:#E2E8F0"></div>
<div class="t" style="left:527.00px;top:1423.13px;font-size:23px;line-height:23px;color:#163A8C;letter-spacing:0.113px;-webkit-text-stroke:0.3px #163A8C;">Product Launch – AlphaX</div>
<div style="position:absolute;left:1016px;top:1415.6px;width:147px;height:36.0px;box-sizing:border-box;background:#30AD73;border-radius:18px"></div>
<svg style="position:absolute;left:1051.75px;top:1427.6px;overflow:visible" width="14" height="12" viewBox="0 0 14 12"><path d="M1.5,6.5 L4.8,9.8 L12,2.5" stroke="#fff" stroke-width="1.6" fill="none" stroke-linecap="butt" stroke-linejoin="miter"/></svg>
<div class="t" style="left:1072.25px;top:1421.22px;font-size:21px;line-height:21px;color:#fff;letter-spacing:-0.301px;-webkit-text-stroke:0.25px #fff;">Active</div>
<div class="t" style="left:1253.80px;top:1423.13px;font-size:23px;line-height:23px;color:#334155;letter-spacing:0.809px;-webkit-text-stroke:0.1px #334155;">6,500</div>
<div class="t" style="left:1493.40px;top:1423.13px;font-size:23px;line-height:23px;color:#334155;letter-spacing:0.708px;-webkit-text-stroke:0.1px #334155;">370</div>
<div class="t" style="left:1732.40px;top:1423.13px;font-size:23px;line-height:23px;color:#334155;letter-spacing:-1.658px;-webkit-text-stroke:0.1px #334155;">5.7%</div>
<div class="t" style="left:1971.30px;top:1423.13px;font-size:23px;line-height:23px;color:#334155;letter-spacing:-0.680px;-webkit-text-stroke:0.1px #334155;">Aug 11</div>
<div style="position:absolute;left:509px;top:1478.1px;width:1681px;height:2.0px;box-sizing:border-box;background:#E2E8F0"></div>
<div class="t" style="left:527.00px;top:1511.13px;font-size:23px;line-height:23px;color:#163A8C;letter-spacing:0.298px;-webkit-text-stroke:0.3px #163A8C;">Retargeting Campaign</div>
<div style="position:absolute;left:1016px;top:1503.6px;width:147px;height:36.0px;box-sizing:border-box;background:#E2A312;border-radius:18px"></div>
<svg style="position:absolute;left:1048.25px;top:1515.6px;overflow:visible" width="14" height="12" viewBox="0 0 14 12"><path d="M1.5,6.5 L4.8,9.8 L12,2.5" stroke="#fff" stroke-width="1.6" fill="none" stroke-linecap="butt" stroke-linejoin="miter"/></svg>
<div class="t" style="left:1067.75px;top:1509.22px;font-size:21px;line-height:21px;color:#fff;letter-spacing:-1.509px;-webkit-text-stroke:0.25px #fff;">Paused</div>
<div class="t" style="left:1254.80px;top:1511.13px;font-size:23px;line-height:23px;color:#334155;letter-spacing:0.309px;-webkit-text-stroke:0.1px #334155;">4,300</div>
<div class="t" style="left:1492.40px;top:1511.13px;font-size:23px;line-height:23px;color:#334155;letter-spacing:0.208px;-webkit-text-stroke:0.1px #334155;">150</div>
<div class="t" style="left:1732.40px;top:1511.13px;font-size:23px;line-height:23px;color:#334155;letter-spacing:-0.991px;-webkit-text-stroke:0.1px #334155;">3.5%</div>
<div class="t" style="left:1971.30px;top:1511.13px;font-size:23px;line-height:23px;color:#334155;letter-spacing:-0.421px;-webkit-text-stroke:0.1px #334155;">Aug 10</div>
<div style="position:absolute;left:509px;top:1566.1px;width:1681px;height:2.0px;box-sizing:border-box;background:#E2E8F0"></div>
<div class="t" style="left:527.00px;top:1599.13px;font-size:23px;line-height:23px;color:#163A8C;letter-spacing:-0.021px;-webkit-text-stroke:0.3px #163A8C;">SEO Content Boost</div>
<div style="position:absolute;left:1016px;top:1591.6px;width:147px;height:36.0px;box-sizing:border-box;background:#9CA3AF;border-radius:18px"></div>
<svg style="position:absolute;left:1034.25px;top:1603.6px;overflow:visible" width="14" height="12" viewBox="0 0 14 12"><path d="M1.5,6.5 L4.8,9.8 L12,2.5" stroke="#fff" stroke-width="1.6" fill="none" stroke-linecap="butt" stroke-linejoin="miter"/></svg>
<div class="t" style="left:1053.75px;top:1597.22px;font-size:21px;line-height:21px;color:#fff;letter-spacing:-1.234px;-webkit-text-stroke:0.25px #fff;">Completed</div>
<div class="t" style="left:1254.80px;top:1599.13px;font-size:23px;line-height:23px;color:#334155;letter-spacing:0.559px;-webkit-text-stroke:0.1px #334155;">5,900</div>
<div class="t" style="left:1492.40px;top:1599.13px;font-size:23px;line-height:23px;color:#334155;letter-spacing:1.208px;-webkit-text-stroke:0.1px #334155;">280</div>
<div class="t" style="left:1732.40px;top:1599.13px;font-size:23px;line-height:23px;color:#334155;letter-spacing:-1.324px;-webkit-text-stroke:0.1px #334155;">4.7%</div>
<div class="t" style="left:1971.30px;top:1599.13px;font-size:23px;line-height:23px;color:#334155;letter-spacing:-0.021px;-webkit-text-stroke:0.1px #334155;">Aug 09</div>
<svg style="position:absolute;left:0;top:0" width="2260" height="1608" viewBox="0 0 2260 1608"><path d="M0,0 L28,0 A36,36 0 0 0 0,28 Z M2260,0 L2232,0 A36,36 0 0 1 2260,28 Z M0,1608 L0,1579.5 A36,36 0 0 0 34,1608 Z M2260,1608 L2226,1608 A36,36 0 0 0 2260,1579 Z" fill="#000"/></svg>
</div></body></html>
